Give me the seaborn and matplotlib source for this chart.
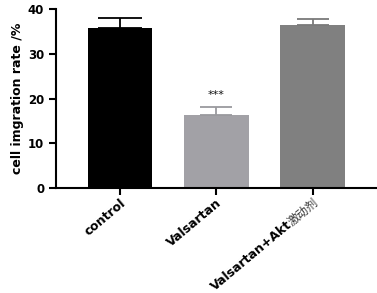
import matplotlib
matplotlib.use("Agg")
import matplotlib.pyplot as plt
import seaborn as sns
import pandas as pd
import numpy as np
from matplotlib.transforms import ScaledTranslation, blended_transform_factory

groups = ["control", "Valsartan", "Valsartan+Akt激动剂"]
label_latin = ["control", "Valsartan", "Valsartan+Akt"]
label_cjk = ["", "", "激动剂"]
means = [35.8, 16.3, 36.5]
errs = [2.2, 1.8, 1.3]
colors = ["#000000", "#a2a1a6", "#808080"]
err_colors = ["#000000", "#9a9a9e", "#7a7a7a"]
caps = [15.5, 11.5, 11.5]

sns.set_style("ticks")
plt.rcParams["font.family"] = ["DejaVu Sans", "Noto Sans CJK SC"]
plt.rcParams["text.color"] = "black"
plt.rcParams["axes.labelcolor"] = "black"
plt.rcParams["xtick.color"] = "black"
plt.rcParams["ytick.color"] = "black"

df = pd.DataFrame({"group": groups, "mean": means})

fig = plt.figure(figsize=(3.77, 2.93), dpi=100)
ax = fig.add_axes([0.1485, 0.358, 0.8515, 0.611])

sns.barplot(data=df, x="group", y="mean", hue="group", palette=colors,
            width=0.67, legend=False, ax=ax, saturation=1, linewidth=0)
for i, (m, e, c, cs) in enumerate(zip(means, errs, err_colors, caps)):
    ax.errorbar(i, m, yerr=[[0], [e]], color=c, capsize=cs, capthick=1.3,
                elinewidth=1.3, fmt="none")

ax.text(1, means[1] + errs[1] + 1.6, "***", ha="center", va="bottom",
        fontsize=8, color="#111111")

tick_len = 5
ax.set_xlim(-0.667, 2.67)
ax.set_ylim(0, 40)
ax.set_yticks([0, 10, 20, 30, 40])
ax.set_xlabel("")
ax.set_ylabel("cell imgration rate /%", fontsize=9, fontweight="bold", labelpad=3)
ax.tick_params(axis="both", width=1.5, length=tick_len, labelsize=8.5,
               color="black", labelcolor="black")
for lab in ax.get_yticklabels():
    lab.set_fontweight("bold")
ax.set_xticks(range(len(groups)))
ax.set_xticklabels(["", "", ""])
sns.despine(ax=ax)
for side in ["left", "bottom"]:
    ax.spines[side].set_linewidth(1.5)
    ax.spines[side].set_color("black")

# rotated x labels, latin part bold, cjk part regular
fs = 9
fs_cjk = 8.5
rot = 40
ca, sa = np.cos(np.radians(rot)), np.sin(np.radians(rot))
trans = blended_transform_factory(ax.transData, ax.transAxes)
base_pt = 0.75 * fs
dx_pt = base_pt * sa
dy_pt = -(tick_len + 1.2) - base_pt * ca
fig.canvas.draw()
renderer = fig.canvas.get_renderer()
for i, (lat, cjk) in enumerate(zip(label_latin, label_cjk)):
    off = ScaledTranslation(dx_pt / 72, dy_pt / 72, fig.dpi_scale_trans)
    w = 0
    if cjk:
        tmp = fig.text(0, 0, cjk, fontsize=fs_cjk, family="Noto Sans CJK SC")
        w = tmp.get_window_extent(renderer).width / fig.dpi * 0.97
        tmp.remove()
        ax.text(i, 0, cjk, transform=trans + off, rotation=rot,
                rotation_mode="anchor", ha="right", va="baseline",
                fontsize=fs_cjk, family="Noto Sans CJK SC", color="#333333",
                clip_on=False)
    off2 = ScaledTranslation(dx_pt / 72 - w * ca, dy_pt / 72 - w * sa,
                             fig.dpi_scale_trans)
    ax.text(i, 0, lat, transform=trans + off2, rotation=rot,
            rotation_mode="anchor", ha="right", va="baseline",
            fontsize=fs, fontweight="bold", color="black", clip_on=False)

fig.savefig("out.png", dpi=100)
